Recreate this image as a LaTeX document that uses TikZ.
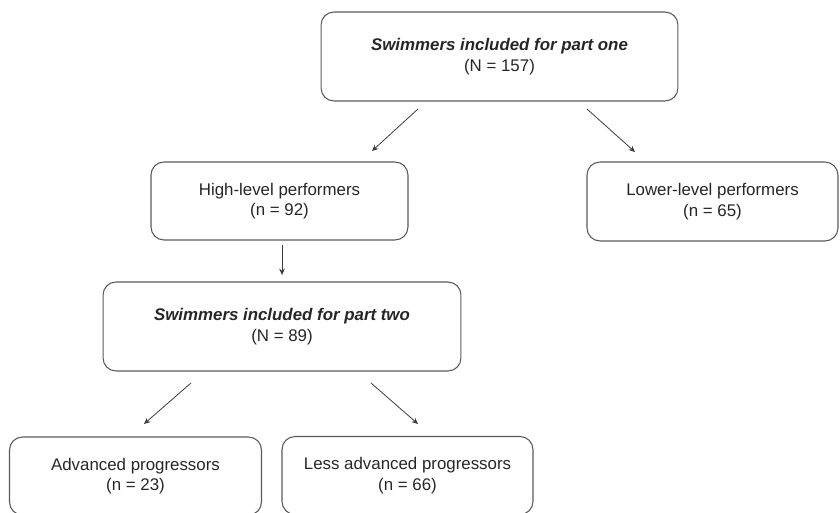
\documentclass[tikz,border=0pt]{standalone}
\usepackage{fontspec}
\setmainfont{Liberation Sans}
\usepackage{xcolor}
\usetikzlibrary{arrows.meta}

\definecolor{borde}{HTML}{5A5A5A}
\definecolor{texto}{HTML}{262626}

\tikzset{
  caja/.style={draw=borde, line width=0.6pt, rounded corners=0.26cm,
    align=center, text=texto, inner sep=0pt,
    font=\fontsize{9.6}{11.6}\selectfont},
  flecha/.style={draw=texto!90, line width=0.45pt,
    -{Stealth[length=3.6pt, width=3.2pt]}}
}

\begin{document}
\begin{tikzpicture}[x=0.02cm, y=-0.02cm]
  \useasboundingbox (0,0) rectangle (840,513);

  % Primera parte
  \node[caja, minimum width=7.14cm, minimum height=1.78cm] (uno) at (499.5,56.5)
    {\textbf{\textit{Swimmers included for part one}}\\(N = 157)};
  \node[caja, minimum width=5.14cm, minimum height=1.56cm] (alto) at (279.5,201)
    {High-level performers\\(n = 92)};
  \node[caja, minimum width=5.02cm, minimum height=1.58cm] (bajo) at (712.5,201.5)
    {Lower-level performers\\(n = 65)};

  % Segunda parte
  \node[caja, minimum width=7.16cm, minimum height=1.78cm] (dos) at (282,326.5)
    {\textbf{\textit{Swimmers included for part two}}\\(N = 89)};
  \node[caja, minimum width=5.04cm, minimum height=1.56cm] (avanz) at (135.5,476)
    {Advanced progressors\\(n = 23)};
  \node[caja, minimum width=5.02cm, minimum height=1.56cm] (menos) at (407.5,475.5)
    {Less advanced progressors\\(n = 66)};

  % Extremos de las flechas
  \coordinate (f1a) at (418,109);  \coordinate (f1b) at (372,151);
  \coordinate (f2a) at (587,109);  \coordinate (f2b) at (635,152);
  \coordinate (f3a) at (282,245);  \coordinate (f3b) at (282,275);
  \coordinate (f4a) at (191,383);  \coordinate (f4b) at (144,424);
  \coordinate (f5a) at (371,383);  \coordinate (f5b) at (418,424);

  % Flechas
  \draw[flecha] (f1a) -- (f1b);
  \draw[flecha] (f2a) -- (f2b);
  \draw[flecha] (f3a) -- (f3b);
  \draw[flecha] (f4a) -- (f4b);
  \draw[flecha] (f5a) -- (f5b);
\end{tikzpicture}
\end{document}
